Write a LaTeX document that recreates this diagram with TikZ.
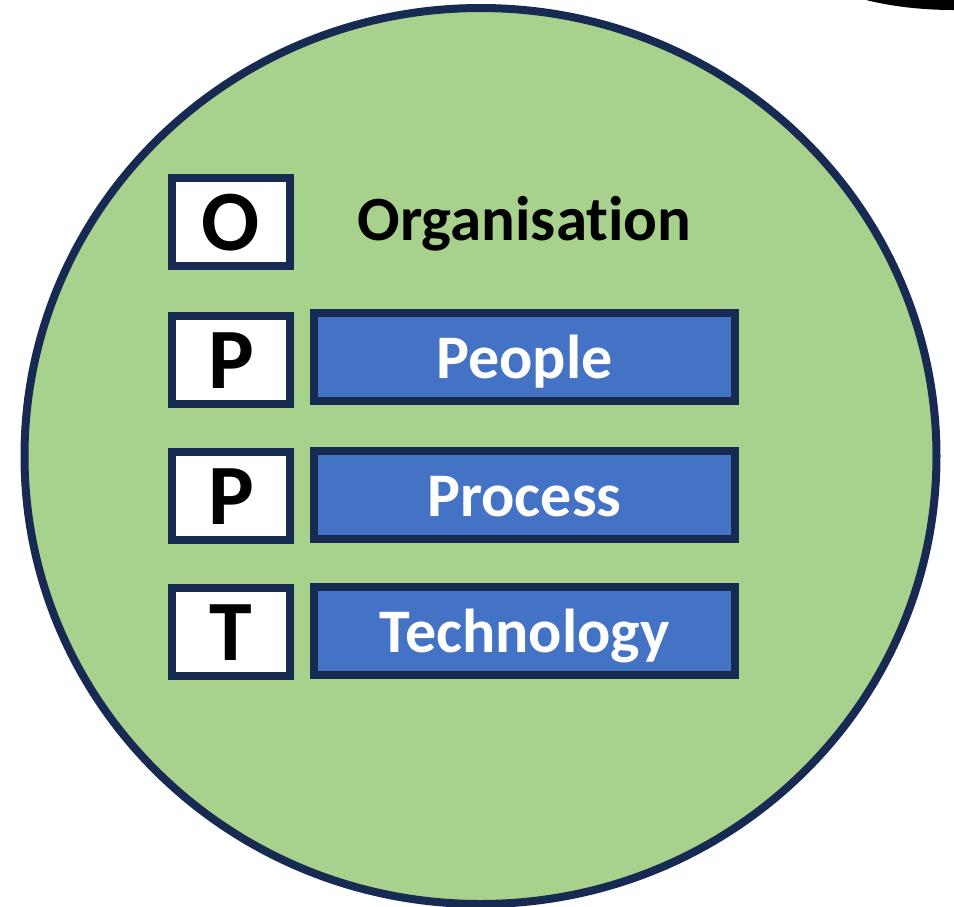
\documentclass[tikz,border=0pt]{standalone}
\usepackage{fontspec}
\setmainfont{Carlito}[Ligatures=NoCommon]
\begin{document}
\begin{tikzpicture}[x=1pt,y=-1pt,
  edge/.style={draw=navy,line width=8pt},
  letterbox/.style={edge,fill=white,minimum width=118pt,minimum height=88pt,
    inner sep=0pt,text height=56pt,text depth=0pt,
    font=\fontsize{86}{86}\selectfont\bfseries,text=black},
  labelbox/.style={edge,fill=boxblue,minimum width=421pt,minimum height=88pt,
    inner sep=0pt,text height=42pt,text depth=0pt,
    font=\fontsize{62}{62}\selectfont\bfseries,text=white}]
  \definecolor{navy}{HTML}{172B52}
  \definecolor{leaf}{HTML}{A9D18E}
  \definecolor{boxblue}{HTML}{4472C4}
  \useasboundingbox (0,0) rectangle (954,906);
  \begin{scope}
    \clip (0,0) rectangle (954,906);
    % outer circle
    \draw[edge,fill=leaf] (480.5,456) ellipse [x radius=456, y radius=448];
    % edge of a neighbouring shape
    \fill[black] (866,0) .. controls (890,6) and (920,10) .. (954,10) -- (954,0) -- cycle;
  \end{scope}
  % letters
  \node[letterbox] (o)  at (231,222) {O};
  \node[letterbox] (p1) at (231,360) {P};
  \node[letterbox] (p2) at (231,496) {P};
  \node[letterbox] (t)  at (231,632) {T};
  % words
  \node[font=\fontsize{63}{63}\selectfont\bfseries,anchor=base] (org) at (524.5,240) {Organisation};
  \node[labelbox] (people)  at (524.5,357) {People};
  \node[labelbox] (process) at (524.5,495) {Process};
  \node[labelbox] (tech)    at (524.5,631) {Technology};
\end{tikzpicture}
\end{document}
